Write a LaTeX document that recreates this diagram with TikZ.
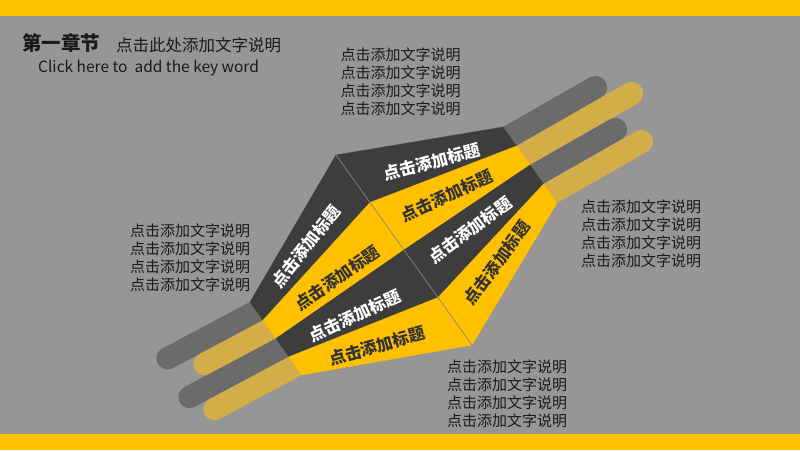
\documentclass[tikz,border=0pt]{standalone}
\usepackage{fontspec}
\setmainfont{Noto Sans CJK SC}
\usetikzlibrary{calc}
\definecolor{bgc}{HTML}{969696}
\definecolor{barc}{HTML}{FFC000}
\definecolor{dface}{HTML}{3D3D3D}
\definecolor{yface}{HTML}{FFC000}
\definecolor{dstem}{HTML}{6B6B6B}
\definecolor{ystem}{HTML}{D3AE48}
\definecolor{txt}{HTML}{1A1A1A}
\definecolor{ttxt}{HTML}{333333}
\definecolor{creasec}{HTML}{858585}
\begin{document}
\begin{tikzpicture}[x=1pt,y=-1pt,
  body/.style={align=left, inner sep=0pt, text=txt, font=\fontsize{15}{18}\selectfont},
  wlabel/.style={inner sep=0pt, text=white, font=\bfseries\fontsize{16.5}{18}\selectfont},
  dlabel/.style={inner sep=0pt, text=ttxt, font=\bfseries\fontsize{16.5}{18}\selectfont},
  crease/.style={draw=creasec, line width=0.7pt}]
\useasboundingbox (0,0) rectangle (800,450);
\fill[fill=bgc] (0,0) rectangle (800,450);
\fill[fill=barc] (0,0) rectangle (800,15.5);
\fill[fill=barc] (0,434) rectangle (800,450);

% key points
\coordinate (P0) at (336,155);
\coordinate (P4) at (472,345);
\coordinate (A0) at (250,302);
\coordinate (A4) at (302,375);
\coordinate (B0) at (503,127);
\coordinate (B4) at (557,203);
\foreach \k/\t in {1/0.25,2/0.5,3/0.75}{
  \coordinate (P\k) at ($(P0)!\t!(P4)$);
  \coordinate (A\k) at ($(A0)!\t!(A4)$);
  \coordinate (B\k) at ($(B0)!\t!(B4)$);
}
\foreach \i/\j in {0/1,1/2,2/3,3/4}{
  \coordinate (MA\i) at ($(A\i)!0.5!(A\j)$);
  \coordinate (MB\i) at ($(B\i)!0.5!(B\j)$);
}
% stem ends
\coordinate (EL0) at (167.5,358.4);
\coordinate (EL1) at (204.5,364);
\coordinate (EL2) at (189.5,397);
\coordinate (EL3) at (214.5,409);
\coordinate (ER0) at (595.5,87.5);
\coordinate (ER1) at (631.5,93.5);
\coordinate (ER2) at (615.5,129.5);
\coordinate (ER3) at (641.5,141.5);

% stems
\foreach \i/\c in {0/dstem,1/ystem,2/dstem,3/ystem}{
  \draw[draw=\c, line width=22.3pt] ($(MA\i)!-10pt!(EL\i)$) -- (EL\i);
  \fill[fill=\c] (EL\i) circle[radius=11.15pt];
  \draw[draw=\c, line width=23.2pt] ($(MB\i)!-10pt!(ER\i)$) -- (ER\i);
  \fill[fill=\c] (ER\i) circle[radius=11.6pt];
}

% faces
\foreach \i/\j/\c in {0/1/dface,1/2/yface,2/3/dface,3/4/yface}{
  \filldraw[fill=\c, draw=\c, line width=0.3pt] (A\i) -- (P\i) -- (P\j) -- (A\j) -- cycle;
  \filldraw[fill=\c, draw=\c, line width=0.3pt] (P\i) -- (B\i) -- (B\j) -- (P\j) -- cycle;
}
\draw[crease] (P0) -- (P4);

% face labels
\node[wlabel, rotate=15] (r1) at (432,162) {点击添加标题};
\node[dlabel, rotate=25] (r2) at (447,196) {点击添加标题};
\node[wlabel, rotate=37] (r3) at (470,230) {点击添加标题};
\node[dlabel, rotate=54] (r4) at (497,263) {点击添加标题};
\node[wlabel, rotate=52] (l1) at (306,247) {点击添加标题};
\node[dlabel, rotate=35] (l2) at (337,278) {点击添加标题};
\node[wlabel, rotate=25] (l3) at (355,316) {点击添加标题};
\node[dlabel, rotate=16] (l4) at (377,346) {点击添加标题};

% heading
\node[anchor=west, inner sep=0pt, text=txt, font=\bfseries\fontsize{19.5}{22}\selectfont] (h1) at (22,43) {第一章节};
\node[anchor=west, inner sep=0pt, text=txt, font=\fontsize{16.5}{20}\selectfont] (h2) at (116,45) {点击此处添加文字说明};
\node[anchor=base west, inner sep=0pt, text=txt, font=\fontsize{15.5}{18}\selectfont] (h3) at (38,72) {Click here to\ \ add the key word};

% body blocks
\node[body] (t1) at (400.5,82) {点击添加文字说明\\点击添加文字说明\\点击添加文字说明\\点击添加文字说明};
\node[body] (t2) at (190,258) {点击添加文字说明\\点击添加文字说明\\点击添加文字说明\\点击添加文字说明};
\node[body] (t3) at (641,234) {点击添加文字说明\\点击添加文字说明\\点击添加文字说明\\点击添加文字说明};
\node[body] (t4) at (507,394) {点击添加文字说明\\点击添加文字说明\\点击添加文字说明\\点击添加文字说明};
\end{tikzpicture}
\end{document}
